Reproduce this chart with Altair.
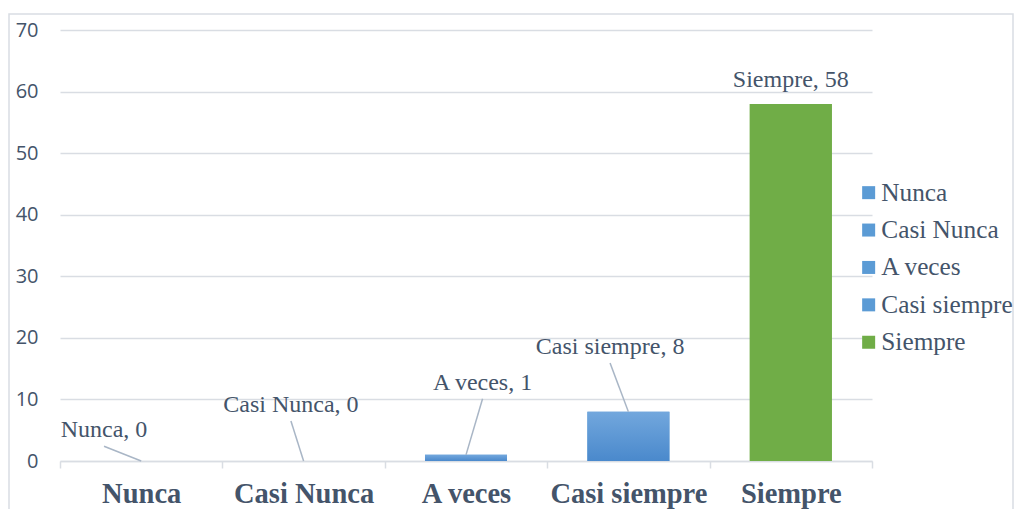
import altair as alt
import pandas as pd

# ---- data ----
categories = ["Nunca", "Casi Nunca", "A veces", "Casi siempre", "Siempre"]
values = [0, 0, 1, 8, 58]

# ---- label placement style (band units / value units) ----
label_dx = [-0.229, -0.078, 0.102, -0.113, 0.0]
label_lift = [5.0, 9.1, 11.7, 10.5, 3.9]
leader = [True, True, True, True, False]

BLUE = "#5B9BD5"
GREEN = "#70AD47"
TEXT = "#44546A"
GRID = "#D9DDE3"
BLUE_GRAD = {
    "gradient": "linear", "x1": 0, "y1": 0, "x2": 0, "y2": 1,
    "stops": [{"offset": 0, "color": "#72A7DD"}, {"offset": 1, "color": "#4A89CC"}],
}

df = pd.DataFrame({
    "cat": categories,
    "value": values,
    "idx": list(range(len(categories))),
    "ldx": label_dx,
    "lift": label_lift,
    "leader": leader,
})
df["label"] = [f"{c}, {v}" for c, v in zip(categories, values)]

n = len(categories)
xscale = alt.Scale(domain=[-0.5, n - 0.5], nice=False, zero=False)
axis_vals = [i / 2 - 0.5 for i in range(2 * n + 1)]
names_js = "[" + ",".join("'" + c + "'" for c in categories) + "]"

base = alt.Chart(df)

frame = base.mark_rect(fill=None, stroke=GRID, strokeWidth=1.5).encode(
    x=alt.value(-51), x2=alt.value(953), y=alt.value(-16), y2=alt.value(530)
).transform_filter("datum.idx == 0")

bar_calc = dict(x0="datum.idx - 0.2525", x1="datum.idx + 0.2525")

bars = base.mark_bar().transform_calculate(**bar_calc).encode(
    x=alt.X("x0:Q", scale=xscale, axis=alt.Axis(
        values=axis_vals,
        labelExpr=f"datum.value % 1 === 0 ? {names_js}[datum.value] : ''",
        tickOpacity={"condition": {"test": "datum.value % 1 === 0", "value": 0}, "value": 1},
        grid=False, title=None, labelOverlap=False, labelFlush=False,
        domainColor=GRID, domainWidth=1.5, tickColor=GRID, tickWidth=1.5, tickSize=7,
        labelFont="Liberation Serif", labelFontWeight="bold", labelFontSize=28.5,
        labelColor=TEXT, labelPadding=11,
    )),
    x2="x1:Q",
    y=alt.Y("value:Q", scale=alt.Scale(domain=[0, 70], nice=False), axis=alt.Axis(
        values=list(range(0, 71, 10)), grid=True, gridColor=GRID, gridWidth=1.5,
        domain=False, ticks=False, title=None,
        labelFont="Open Sans", labelFontSize=20, labelColor=TEXT, labelPadding=22,
    )),
    y2=alt.datum(0),
    color=alt.Color("cat:N", scale=alt.Scale(domain=categories,
                                             range=[BLUE, BLUE, BLUE, BLUE, GREEN]),
                    legend=alt.Legend(
                        orient="none", legendX=796, legendY=150, title=None,
                        symbolType="square", symbolSize=169, symbolStrokeWidth=0,
                        labelFont="Liberation Serif", labelFontSize=25.3, labelColor=TEXT,
                        labelLimit=0, rowPadding=11.4, labelOffset=0,
                    )),
)

grad_bars = base.mark_bar().transform_calculate(**bar_calc).encode(
    x=alt.X("x0:Q", scale=xscale),
    x2="x1:Q",
    y=alt.Y("value:Q"),
    y2=alt.datum(0),
    fill=alt.condition(f"datum.cat == '{categories[-1]}'", alt.value(GREEN), alt.value(BLUE_GRAD)),
)

lines = base.transform_filter("datum.leader").transform_calculate(
    lx="datum.idx + datum.ldx",
    ly="datum.value + datum.lift - 2.6",
).mark_rule(color="#A9B6C6", strokeWidth=1.5).encode(
    x=alt.X("lx:Q", scale=xscale),
    y=alt.Y("ly:Q"),
    x2="idx:Q",
    y2="value:Q",
)

labels = base.transform_calculate(
    lx="datum.idx + datum.ldx",
    ly="datum.value + datum.lift",
).mark_text(font="Liberation Serif", fontSize=24, color=TEXT,
            align="center", baseline="middle").encode(
    x=alt.X("lx:Q", scale=xscale),
    y=alt.Y("ly:Q"),
    text="label:N",
)

chart = alt.layer(frame, bars, grad_bars, lines, labels).properties(
    width=812, height=431,
    autosize=alt.AutoSizeParams(type="none"),
    padding={"left": 52, "top": 22, "right": 142, "bottom": 48},
).configure_view(stroke=None)

chart.save("out.html", embed_options={"renderer": "svg", "actions": False})
